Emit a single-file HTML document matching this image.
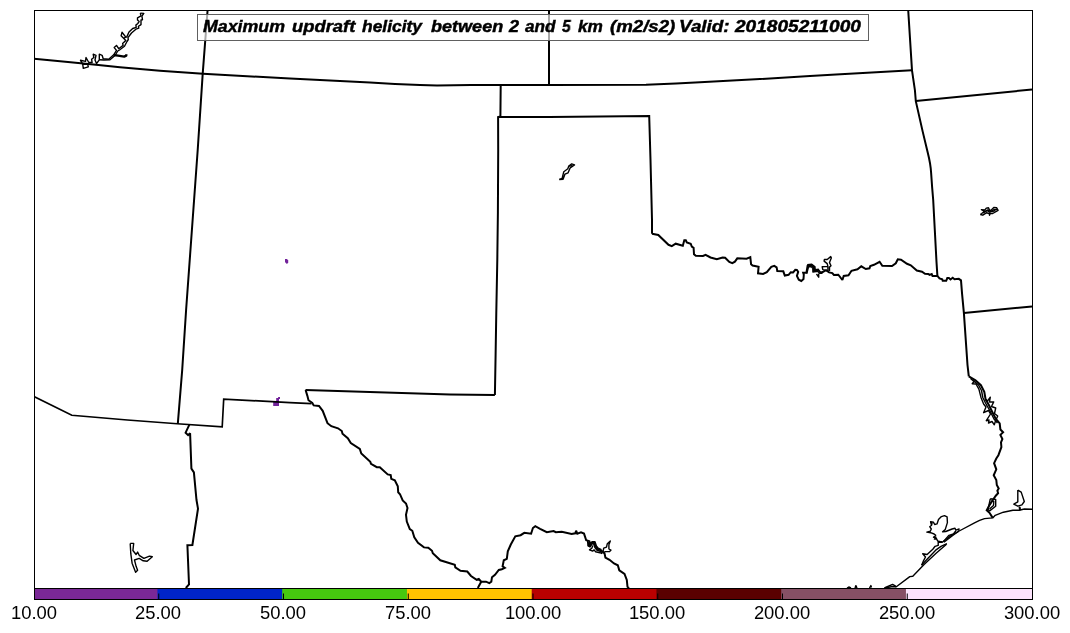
<!DOCTYPE html>
<html><head><meta charset="utf-8">
<style>
html,body{margin:0;padding:0;background:#fff;}
body{width:1070px;height:633px;overflow:hidden;position:relative;font-family:"Liberation Sans",sans-serif;}
svg{position:absolute;left:0;top:0;}
.lbl{will-change:transform;position:absolute;top:602.5px;width:100px;margin-left:-50px;text-align:center;font-size:18.4px;line-height:20px;color:#000;transform:scaleX(1.0);transform-origin:50% 50%;white-space:nowrap;}
#title{position:absolute;left:197px;top:14px;width:670px;height:25px;border:1px solid #606060;background:rgba(255,255,255,0.66);box-sizing:content-box;}
.tw{will-change:transform;position:absolute;top:12px;line-height:30px;font-size:16.75px;-webkit-text-stroke:0.45px #000;font-weight:bold;font-style:italic;white-space:nowrap;transform-origin:0 50%;color:#000;}
</style></head><body>
<svg width="1070" height="633" viewBox="0 0 1070 633">
<defs><clipPath id="ax"><rect x="34" y="10" width="998" height="578.5"/></clipPath></defs>

<rect x="34.00" y="588" width="998.00" height="11.5" fill="#7a2896"/>
<rect x="157.45" y="588" width="874.55" height="11.5" fill="#0024c8"/>
<rect x="282.20" y="588" width="749.80" height="11.5" fill="#46c80f"/>
<rect x="406.95" y="588" width="625.05" height="11.5" fill="#ffc400"/>
<rect x="531.70" y="588" width="500.30" height="11.5" fill="#b90000"/>
<rect x="656.45" y="588" width="375.55" height="11.5" fill="#5a0000"/>
<rect x="781.20" y="588" width="250.80" height="11.5" fill="#865065"/>
<rect x="905.95" y="588" width="126.05" height="11.5" fill="#fce3fc"/>
<rect x="158.25" y="593.5" width="1" height="6" fill="#000"/>
<rect x="283.00" y="593.5" width="1" height="6" fill="#000"/>
<rect x="407.75" y="593.5" width="1" height="6" fill="#000"/>
<rect x="532.50" y="593.5" width="1" height="6" fill="#000"/>
<rect x="657.25" y="593.5" width="1" height="6" fill="#000"/>
<rect x="782.00" y="593.5" width="1" height="6" fill="#000"/>
<rect x="906.75" y="593.5" width="1" height="6" fill="#000"/>
<rect x="34.5" y="588.5" width="998" height="11" fill="none" stroke="#000" stroke-width="1"/>
<g clip-path="url(#ax)" fill="none" stroke="#000" stroke-linejoin="round" stroke-linecap="butt">
<g stroke-width="1.4">
<path d="M884.3,588.0 L892.6,584.4 L894.8,585.6 L896.3,587.0"/>
<path d="M885.0,588.0 L892.5,586.5 L896.3,586.7 L909.8,576.6 L912.8,576.2 L924.1,564.5 L936.1,553.3 L946.5,544.3"/>
<path d="M942.6,542.0 L951.4,535.4 L959.2,531.0 L975.0,522.6 L979.6,520.4 L984.5,518.6 L992.7,517.9 L995.2,515.3 L1003.4,512.2 L1012.9,510.3 L1019.2,510.3 L1024.3,509.0 L1032.0,509.3"/>
<path d="M921.6,565.3 L923.2,561.4 L925.5,557.0 L922.7,553.7 L927.1,554.5 L932.8,549.2 L935.1,546.3 L938.2,545.4 L938.2,542.2 L942.3,542.2 L937.6,541.0 L936.6,538.7 L934.4,539.1 L936.0,537.2 L933.5,537.2 L935.7,535.3 L934.1,534.0 L930.6,532.7 L926.8,532.1 L930.3,531.2 L931.3,529.0 L929.7,526.7 L931.6,525.2 L930.6,521.7 L933.5,522.3 L934.7,524.5 L937.0,523.9 L938.5,519.5 L941.4,516.6 L944.5,515.6 L947.1,516.9 L947.4,522.6 L945.2,529.6 L942.6,531.8 L945.8,531.5 L952.1,529.0 L955.0,528.3 L955.9,530.2 L959.1,529.0 L958.4,530.8"/>
<path d="M938.6,542.0 L942.4,541.6"/>
<path d="M930.4,522.0 L932.0,523.6 L931.4,525.0"/>
<path d="M921.6,565.3 L926.6,559.8 L936.4,549.6 L941.0,546.4 L946.9,543.6"/>
<path d="M943.3,541.6 L949.0,535.3 L953.4,534.0 L955.9,530.8"/>
<path d="M943.9,542.2 L953.4,535.0 L958.4,531.5"/>
<path d="M847.0,588.0 L848.8,587.0 L851.0,588.0"/>
<path d="M855.0,588.0 L855.9,585.6 L857.0,588.0"/>
<path d="M869.5,588.0 L870.9,585.6 L871.5,587.5"/>
<path d="M990.3,498.8 L995.7,499.5 L995.7,506.2 L989.6,510.9 L988.0,509.5 L990.3,498.8"/>
<path d="M991.5,501.0 L993.8,501.5 L993.5,505.5 L989.5,509.0"/>
<path d="M1017.8,490.1 L1021.2,492.1 L1024.3,501.5 L1021.9,504.9 L1017.8,506.2 L1013.8,504.2 L1017.8,501.8 L1017.8,490.1"/>
<path d="M1019.2,506.6 L1019.8,510.3"/>
<path d="M1019.9,506.8 L1020.4,510.2"/>
<path d="M970.5,378.5 L974.0,381.5 L972.2,383.8 L976.0,384.0 L978.9,389.2 L980.9,397.2 L983.6,404.0 L986.0,407.0 L983.6,412.7 L988.5,410.5 L990.5,414.0 L986.3,420.7 L989.0,420.0 L988.5,423.0 L992.0,421.5 L994.3,424.8 L995.5,421.0 L997.7,416.0 L994.5,413.5 L995.7,408.0 L991.5,406.5 L993.7,401.9 L989.5,402.0 L990.3,397.2 L987.5,401.0 L985.6,399.3"/>
<path d="M973.0,380.5 L978.5,385.0 L981.5,390.5 L982.8,397.5 L985.5,403.0 L990.0,411.0 L994.0,419.0 L997.5,423.0"/>
<path d="M829.5,270.9 L829.5,267.1 L831.0,265.8 L829.5,262.6 L831.3,257.9 L830.7,256.6 L827.2,259.5 L824.4,259.5 L824.1,261.1 L827.2,263.6 L827.9,266.4 L822.2,266.8 L822.8,269.6 L825.0,270.2 L827.9,270.9 L827.9,266.4"/>
<path d="M816.5,274.0 L818.7,277.2 L818.7,273.4"/>
<path d="M806.8,273.5 L808.5,266.8 L811.0,266.6 L812.8,268.2 L812.9,272.0 L817.8,271.4 L819.6,273.4 L822.5,273.2"/>
<path d="M807.2,264.8 L811.8,264.2 L815.0,266.8 L815.1,269.8 L818.8,269.2"/>
<path d="M592.8,545.6 L591.8,548.2 L589.5,549.9 L592.6,551.1 L594.2,549.9 L595.6,551.8 L599.9,552.7 L602.3,553.7"/>
<path d="M587.6,541.0 L588.0,545.8 L590.0,547.0 L592.0,543.8 L593.6,543.6 L594.8,547.4 L596.8,550.0 L600.2,551.4 L602.6,553.0"/>
<path d="M590.0,541.6 L590.0,544.6 L592.2,541.8 L595.0,541.8 L596.4,546.0 L598.2,548.2 L601.4,549.6"/>
<path d="M603.2,550.9 L603.7,548.2 L606.5,547.1 L607.3,543.7 L610.3,540.9 L608.9,544.7 L608.9,549.0 L611.0,550.1 L609.6,551.6 L605.6,551.6 L603.5,552.5"/>
<path d="M559.2,179.5 L562.1,178.4 L563.8,171.7 L567.8,168.8 L568.8,166.0 L571.7,163.9 L574.5,164.9 L570.2,167.8 L568.1,172.8 L564.9,174.2 L563.1,179.2 L559.2,179.5"/>
<path d="M568.8,166.0 L572.5,165.8"/>
<path d="M980.3,214.5 L982.8,215.2 L986.3,212.8 L989.2,213.5 L989.5,215.2 L990.2,213.5 L992.7,213.5 L998.1,210.3 L996.7,207.8 L993.8,207.4 L991.3,209.9 L989.9,211.0 L988.5,207.8 L986.3,208.1 L984.9,209.9 L981.4,209.6 L984.6,211.3 L981.7,213.5 L980.3,214.5"/>
<path d="M983.0,213.0 L987.0,210.5 L990.0,212.3 L994.0,209.5 L997.0,209.5"/>
<path d="M984.0,212.0 L988.0,210.0 L992.0,211.5 L995.5,210.5"/>
<path d="M130.2,543.4 L133.7,543.4 L132.9,550.5 L136.1,554.5 L137.6,552.1 L139.2,555.3 L143.9,558.4 L149.5,556.1 L152.3,556.8 L147.1,561.3 L143.2,560.8 L139.2,558.4 L134.5,560.0 L136.1,566.3 L137.6,570.3 L135.6,572.3 L132.1,563.2 L130.8,553.7 L130.2,543.4"/>
<path d="M140.3,13.1 L141.0,15.9 L137.5,17.8 L137.5,20.0 L139.1,21.6 L137.8,23.5 L135.9,25.1 L136.2,27.3 L132.7,28.5 L129.0,32.0 L126.7,37.1 L125.8,37.1 L122.0,32.3 L121.1,35.8 L123.6,38.3 L125.8,40.4 L122.6,43.4 L123.1,45.4 L118.7,48.7 L116.5,45.4 L114.2,47.6 L116.5,50.4 L113.7,54.8 L108.7,59.2 L103.2,58.7 L102.1,55.3 L99.3,54.2 L99.3,59.8 L96.5,63.6 L95.0,60.0 L96.0,55.3 L93.2,54.2 L93.8,57.5 L91.6,59.2 L92.1,62.5 L88.8,62.5 L86.0,57.5 L85.5,61.4 L80.5,60.3 L82.7,64.2 L83.3,68.3 L88.3,66.9 L87.7,64.2 L82.7,64.2"/>
<path d="M140.3,13.1 L143.8,13.4 L141.9,16.2 L142.5,19.7 L141.0,20.0 L141.0,24.7 L138.4,26.3 L138.8,28.2 L135.9,29.2 L131.5,33.0 L128.0,37.7 L128.3,39.5 L127.0,41.5 L124.5,46.3 L119.5,50.0 L117.8,51.0 L115.0,55.5 L110.0,59.8 L104.0,60.0 L99.3,59.8"/>
<path d="M123.6,38.3 L125.8,37.1"/>
</g>
<path d="M113.9,55.0 L118.0,55.6 L124.2,56.6 L126.2,55.6 L126.6,54.2" stroke-width="2.3"/>
<g stroke="none" fill="#72229a"><path d="M285,259 L287,259 L288.2,260.5 L288.2,262.5 L287,264 L285.8,263 L285,262 Z"/>
<path d="M273.2,402.1 L276.2,402.1 L276.2,398 L278.1,398 L278.1,397 L280,397 L280,398.9 L279,398.9 L279,405.9 L273.2,405.9 Z"/></g>
<g stroke-width="1.65" stroke-linejoin="miter">
<path d="M34.0,396.5 L71.8,415.2 L127.4,420.0 L177.2,423.7 L222.2,426.9 L223.7,399.1 L290.0,402.6 L311.5,403.6"/>
</g>
<g stroke-width="2" stroke-linejoin="miter" stroke-miterlimit="2">
<path d="M34.0,58.8 L68.0,62.0 L96.0,64.8 L120.0,67.2 L160.0,70.7 L203.0,73.8 L290.0,78.6 L370.0,82.5 L395.0,83.9 L420.0,85.0 L437.0,85.4 L471.0,85.1 L549.0,84.9 L646.0,84.8 L676.0,83.6 L700.0,82.2 L760.0,79.0 L810.0,76.0 L836.0,74.5 L912.0,70.2"/>
<path d="M207.6,10.0 L202.7,73.8 L197.7,150.0 L186.1,310.0 L182.2,370.0 L177.8,423.8"/>
<path d="M549.0,10.0 L549.0,85.0"/>
<path d="M500.7,85.0 L500.4,116.6 L498.1,117.0 L498.2,150.0 L497.9,212.0 L497.3,260.0 L496.3,312.0 L495.6,355.0 L494.9,395.1"/>
<path d="M498.1,117.0 L549.0,116.9 L649.2,115.9 L650.5,160.0 L652.0,220.0 L652.0,233.8"/>
<path d="M908.2,10.0 L912.0,70.3 L914.9,90.0 L915.8,101.1 L922.7,131.6 L927.6,152.1 L929.0,158.0 L930.0,163.2 L930.7,168.0 L931.1,172.7 L932.1,186.9 L933.2,200.0 L934.8,230.0 L936.5,262.0 L937.4,275.9"/>
<path d="M915.8,101.1 L1032.0,89.5"/>
<path d="M652.0,233.8 L658.3,235.0 L668.5,244.8 L671.8,246.1 L675.7,243.7 L682.8,245.8 L684.3,240.3 L685.8,240.3 L686.8,242.5 L690.7,243.7 L691.8,246.7 L693.6,247.8 L694.0,254.2 L695.8,255.7 L703.0,256.0 L705.6,254.8 L710.5,257.5 L716.8,259.3 L722.6,257.5 L725.1,257.8 L729.3,262.0 L732.3,263.2 L734.9,261.7 L737.3,258.3 L746.6,258.7 L750.3,257.1 L751.1,264.3 L752.6,265.5 L758.6,266.8 L758.0,273.3 L763.1,274.0 L766.8,272.2 L771.3,266.8 L774.3,265.8 L776.6,267.3 L777.3,271.0 L783.3,271.3 L784.8,275.5 L788.6,274.8 L790.8,272.2 L793.1,272.5 L795.3,269.8 L796.9,269.9 L798.2,271.8 L796.9,275.9 L798.8,279.7 L801.3,281.0 L803.5,279.1 L803.8,274.7 L803.2,272.8 L806.4,272.8 L807.6,265.8 L811.4,265.2 L814.0,267.4 L814.0,270.9 L818.4,270.2 L820.3,272.4 L822.8,272.1 L826.0,270.2 L829.1,272.4 L832.3,273.1 L833.9,275.0 L838.3,274.7 L842.4,280.0 L843.7,275.9 L848.5,275.3 L851.5,270.8 L857.5,269.3 L861.3,266.3 L865.8,269.0 L869.5,268.3 L870.3,266.0 L874.0,264.8 L879.6,261.8 L882.3,265.7 L892.0,266.0 L895.8,263.3 L897.8,259.3 L901.0,259.7 L907.0,263.8 L910.8,265.3 L916.8,270.5 L922.0,271.7 L925.0,273.8 L928.2,273.9 L929.6,274.9 L931.7,274.1 L932.5,275.9 L937.4,275.9 L939.5,278.4 L942.2,279.2 L942.7,280.8 L946.2,280.8 L947.3,278.1 L948.9,278.1 L950.5,279.5 L952.7,277.8 L954.5,279.2 L958.8,278.8 L961.0,280.3 L962.1,294.2 L963.9,313.1 L967.5,365.0 L968.8,376.4"/>
<path d="M963.9,313.1 L1032.0,306.5"/>
<path d="M968.8,376.4 L975.5,380.4 L980.9,385.2 L984.3,391.9 L985.6,399.3 L989.0,405.3 L992.3,412.0 L995.7,418.7 L999.7,423.4 L1000.4,429.5 L1003.1,432.2 L1000.4,434.9 L1002.4,439.0 L1001.0,442.4 L1001.4,447.1 L998.4,455.2 L996.3,458.5 L994.1,463.2 L996.3,469.3 L993.7,475.3 L996.3,480.0 L996.8,485.0 L998.7,488.5 L997.4,490.7 L998.1,493.2 L995.8,495.7 L993.3,499.2 L989.8,504.6 L986.7,510.3 L989.5,512.8 L992.7,517.9"/>
<path d="M494.9,395.1 L450.0,394.5 L305.5,390.0"/>
<path d="M305.6,390.0 L307.3,395.6 L308.5,400.2 L312.3,402.9 L313.7,405.4 L319.0,406.0 L322.7,410.8 L327.5,423.2 L331.3,426.2 L338.0,428.3 L341.8,431.0 L342.5,433.7 L347.8,438.2 L350.8,443.0 L359.8,449.0 L361.3,453.5 L370.3,461.8 L371.0,463.8 L376.8,467.2 L379.8,467.2 L387.7,474.4 L390.7,475.0 L391.3,478.8 L394.8,480.3 L397.8,486.3 L398.2,492.3 L400.0,494.2 L402.7,500.5 L406.0,503.5 L407.5,508.0 L406.0,514.8 L406.8,521.5 L409.8,529.0 L412.3,530.8 L414.3,537.3 L418.0,542.9 L424.0,547.4 L428.3,547.8 L432.0,550.8 L432.8,553.2 L440.3,560.3 L454.8,564.8 L455.3,567.3 L460.5,570.8 L467.3,571.5 L471.0,576.0 L476.7,579.8 L478.8,579.0 L481.2,581.7 L486.0,581.7 L489.3,583.1 L491.3,581.7 L492.0,577.2 L495.0,574.8 L498.8,570.0 L501.8,569.3 L504.8,567.8 L502.6,566.3 L503.8,560.3 L506.8,558.8 L507.8,551.3 L510.8,544.5 L515.3,536.3 L520.6,535.2 L524.3,532.8 L531.1,533.7 L532.9,528.0 L535.3,526.2 L540.1,528.8 L546.8,532.2 L553.6,531.0 L555.8,532.2 L561.8,531.8 L571.6,534.0 L575.3,533.3 L576.1,530.7 L577.3,533.7 L581.0,532.3 L584.0,533.6 L586.2,540.2 L589.2,541.1 L588.8,545.2 L590.2,545.9 L591.4,542.8 L594.2,542.6 L595.6,546.6 L597.5,549.0 L600.9,550.4 L603.2,552.0 L604.6,553.7 L605.4,557.5 L609.5,559.8 L614.0,563.5 L617.8,565.3 L619.3,570.3 L624.5,574.0 L626.8,580.0 L627.5,586.8 L629.0,588.0"/>
<path d="M481.2,581.7 L477.8,588.0"/>
<path d="M189.4,424.6 L185.6,432.7 L188.1,435.2 L190.1,433.2 L191.4,468.6 L193.9,472.4 L196.5,500.0 L198.0,508.7 L192.4,545.0 L187.4,545.3 L189.0,584.5 L185.8,588.0"/>
</g></g>
<rect x="34.5" y="10.5" width="998" height="578" fill="none" stroke="#000" stroke-width="1"/>
</svg>
<div id="title"></div>
<span class="tw" style="left:203.20px;transform:scaleX(1.0610)">Maximum</span>
<span class="tw" style="left:292.20px;transform:scaleX(1.0966)">updraft</span>
<span class="tw" style="left:361.60px;transform:scaleX(1.0390)">helicity</span>
<span class="tw" style="left:430.50px;transform:scaleX(1.0776)">between</span>
<span class="tw" style="left:508.50px;transform:scaleX(1.0778)">2</span>
<span class="tw" style="left:525.10px;transform:scaleX(1.0233)">and</span>
<span class="tw" style="left:562.20px;transform:scaleX(0.9300)">5</span>
<span class="tw" style="left:578.40px;transform:scaleX(1.0292)">km</span>
<span class="tw" style="left:609.70px;transform:scaleX(1.1121)">(m2/s2)</span>
<span class="tw" style="left:679.47px;transform:scaleX(1.1256)">Valid:</span>
<span class="tw" style="left:735.40px;transform:scaleX(1.1387)">201805211000</span>
<div class="lbl" style="left:33.60px">10.00</div>
<div class="lbl" style="left:158.35px">25.00</div>
<div class="lbl" style="left:283.10px">50.00</div>
<div class="lbl" style="left:407.85px">75.00</div>
<div class="lbl" style="left:532.60px">100.00</div>
<div class="lbl" style="left:657.35px">150.00</div>
<div class="lbl" style="left:782.10px">200.00</div>
<div class="lbl" style="left:906.85px">250.00</div>
<div class="lbl" style="left:1031.60px">300.00</div>
</body></html>
